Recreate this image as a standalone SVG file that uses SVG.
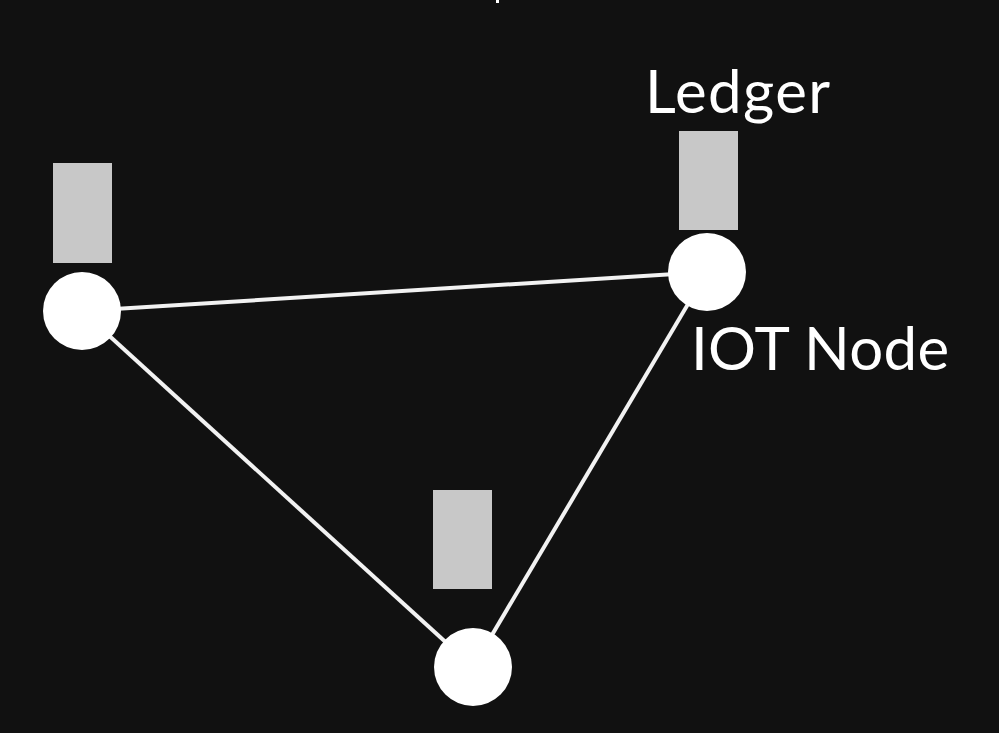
<svg xmlns="http://www.w3.org/2000/svg" width="999" height="733" viewBox="0 0 999 733">
<style>
.ledger{fill:#c8c8c8}
.node{fill:#ffffff}
.edge{stroke:#f2f2f2;stroke-width:4;fill:none}
.lbl{font-family:Lato,"Open Sans",sans-serif;font-size:60px;fill:#ffffff}
</style>
<rect width="999" height="733" fill="#111111"/>
<rect x="496" y="0" width="3" height="3" fill="#ffffff"/>
<g id="connectors">
<line class="edge" x1="82" y1="311" x2="707" y2="272"/>
<line class="edge" x1="82" y1="311" x2="473" y2="667"/>
<line class="edge" x1="707" y1="272" x2="473" y2="667"/>
</g>
<g id="node-left">
<rect class="ledger" x="53" y="163" width="59" height="100"/>
<circle class="node" cx="82" cy="311" r="39"/>
</g>
<g id="node-right">
<rect class="ledger" x="679" y="131" width="59" height="99"/>
<circle class="node" cx="707" cy="272" r="39"/>
<text class="lbl" x="645" y="113" letter-spacing="1.4">Ledger</text>
<text class="lbl" x="691" y="370" letter-spacing="0.3">IOT Node</text>
</g>
<g id="node-bottom">
<rect class="ledger" x="433" y="490" width="59" height="99"/>
<circle class="node" cx="473" cy="667" r="39"/>
</g>
</svg>
